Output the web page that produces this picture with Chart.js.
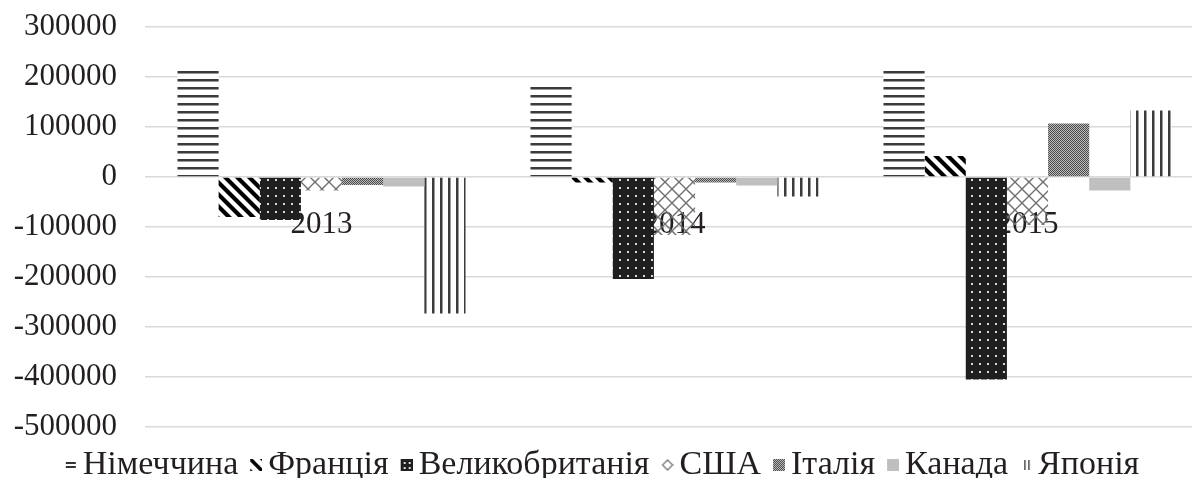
<!DOCTYPE html>
<html><head><meta charset="utf-8">
<script src="https://cdn.jsdelivr.net/npm/chart.js@4.4.1/dist/chart.umd.min.js"></script>
<style>html,body{margin:0;padding:0;background:#fff;overflow:hidden;width:1192px;height:478px}canvas{display:block}</style>
</head><body>
<canvas id="c" width="1204" height="478" style="width:1204px;height:478px"></canvas>
<script>
const categories = ['2013', '2014', '2015'];
const seriesNames = ['Німеччина', 'Франція', 'Великобританія', 'США', 'Італія', 'Канада', 'Японія'];
const germany = [212000, 181000, 212000];
const france  = [-80000, -11000, 42000];
const uk      = [-86000, -204000, -405000];
const usa     = [-27000, -116000, -96000];
const italy   = [-16000, -11000, 107000];
const canada  = [-19000, -17000, -27000];
const japan   = [-273000, -39000, 133000];
const yMin = -500000, yMax = 300000, yStep = 100000;

const FAMILY = '"Liberation Serif", "Times New Roman", serif';
const FONT = { family: FAMILY, size: 31 };
const LEGEND_FONT = { family: FAMILY, size: 34 };
const TEXT = '#231f20';

function tile(w, h, draw) {
  const c = document.createElement('canvas'); c.width = w; c.height = h;
  draw(c.getContext('2d'), w, h); return c;
}
const ctx0 = document.getElementById('c').getContext('2d');
const pat = t => ctx0.createPattern(t, 'repeat');

const tGermany = tile(8, 8, (x, w, h) => { x.fillStyle = '#fff'; x.fillRect(0,0,w,h); x.fillStyle = '#3c3c3c'; x.fillRect(0,7,w,1); x.fillRect(0,0,w,1); x.fillStyle = '#9a9a9a'; x.fillRect(0,1,w,1); });
const tFrance = tile(12, 12, (x, w, h) => { x.fillStyle = '#fff'; x.fillRect(0,0,w,h); x.strokeStyle = '#000'; x.lineWidth = 4.2; x.beginPath(); for (const k of [-12, 0, 12]) { x.moveTo(k-2,-2); x.lineTo(k+14,14); } x.stroke(); });
const tUK = tile(8, 8, (x, w, h) => { x.fillStyle = '#1f1f1f'; x.fillRect(0,0,w,h); x.fillStyle = '#d8d8d8'; x.fillRect(3,3,2,2); });
const tUSA = tile(14, 14, (x, w, h) => { x.strokeStyle = '#6e6e6e'; x.lineWidth = 1.4; x.beginPath(); x.moveTo(7,0); x.lineTo(14,7); x.lineTo(7,14); x.lineTo(0,7); x.closePath(); x.stroke(); });
const tItaly = tile(2, 2, (x) => { x.fillStyle = '#bdbdbd'; x.fillRect(0,0,2,2); x.fillStyle = '#4a4a4a'; x.fillRect(0,0,1,1); x.fillRect(1,1,1,1); });
const tJapan = tile(8, 8, (x, w, h) => { x.fillStyle = '#fff'; x.fillRect(0,0,w,h); x.fillStyle = '#3c3c3c'; x.fillRect(0,0,2,h); x.fillStyle = '#9a9a9a'; x.fillRect(2,0,1,h); });

const fills = [pat(tGermany), pat(tFrance), pat(tUK), pat(tUSA), pat(tItaly), '#bfbfbf', pat(tJapan)];

// legend swatches: 23x12 canvas, swatch drawn in right 12px
function sw(draw) { return tile(23, 12, (x) => { x.save(); x.beginPath(); x.rect(11,0,12,12); x.clip(); draw(x); x.restore(); }); }
const swatches = [
  sw(x => { x.fillStyle = '#333'; x.fillRect(12,3,10,2); x.fillRect(12,7,10,2); }),
  sw(x => { x.strokeStyle = '#000'; x.lineWidth = 3.6; x.beginPath(); for (const k of [-12, 0, 12]) { x.moveTo(11+k-2,-2); x.lineTo(11+k+14,14); } x.stroke(); }),
  sw(x => { x.fillStyle = '#1f1f1f'; x.fillRect(11,0,12,12); x.fillStyle = '#ddd'; x.fillRect(14,3,2,2); x.fillRect(19,3,2,2); x.fillRect(14,8,2,2); x.fillRect(19,8,2,2); }),
  sw(x => { x.strokeStyle = '#777'; x.lineWidth = 1.3; x.beginPath(); x.moveTo(17,1); x.lineTo(22,6); x.lineTo(17,11); x.lineTo(12,6); x.closePath(); x.stroke(); }),
  sw(x => { x.fillStyle = pat(tItaly); x.fillRect(11,0,12,12); }),
  sw(x => { x.fillStyle = '#bfbfbf'; x.fillRect(11,0,12,12); }),
  sw(x => { x.fillStyle = '#555'; x.fillRect(15,1,1.6,10); x.fillRect(19,1,1.6,10); })
];

const values = [germany, france, uk, usa, italy, canada, japan];
const datasets = seriesNames.map((n, i) => ({
  label: n, data: values[i], backgroundColor: fills[i], borderWidth: 0, pointStyle: swatches[i]
}));

new Chart(ctx0, {
  type: 'bar',
  data: { labels: categories, datasets },
  options: {
    responsive: false, animation: false, devicePixelRatio: 1, events: [],
    layout: { autoPadding: false, padding: { top: 27, left: 0, right: 0, bottom: 0 } },
    datasets: { bar: { categoryPercentage: 0.816, barPercentage: 1 } },
    scales: {
      x: {
        position: { y: 0 }, offset: true,
        grid: { display: false }, border: { display: false },
        ticks: { font: FONT, color: TEXT, padding: 21, maxRotation: 0, autoSkip: false }
      },
      y: {
        min: yMin, max: yMax,
        ticks: { stepSize: yStep, callback: v => String(v), font: FONT, color: TEXT, padding: 28 },
        grid: { color: '#d9d9d9', lineWidth: 1.5, drawTicks: false },
        border: { display: false },
        afterFit: s => { s.width = 145; s.paddingTop = 0; s.paddingBottom = 0; }
      }
    },
    plugins: {
      tooltip: { enabled: false },
      legend: {
        position: 'bottom', maxHeight: 51,
        title: { display: true, text: ' ', font: { size: 1, lineHeight: 1 }, padding: { top: 8, bottom: 0 } },
        labels: {
          usePointStyle: true, pointStyleWidth: 1, padding: 12, font: LEGEND_FONT, color: TEXT,
          generateLabels: chart => Chart.defaults.plugins.legend.labels.generateLabels(chart).map((it, i) => Object.assign(it, { pointStyle: swatches[i], fontColor: TEXT }))
        }
      }
    }
  }
});
</script>
</body></html>
